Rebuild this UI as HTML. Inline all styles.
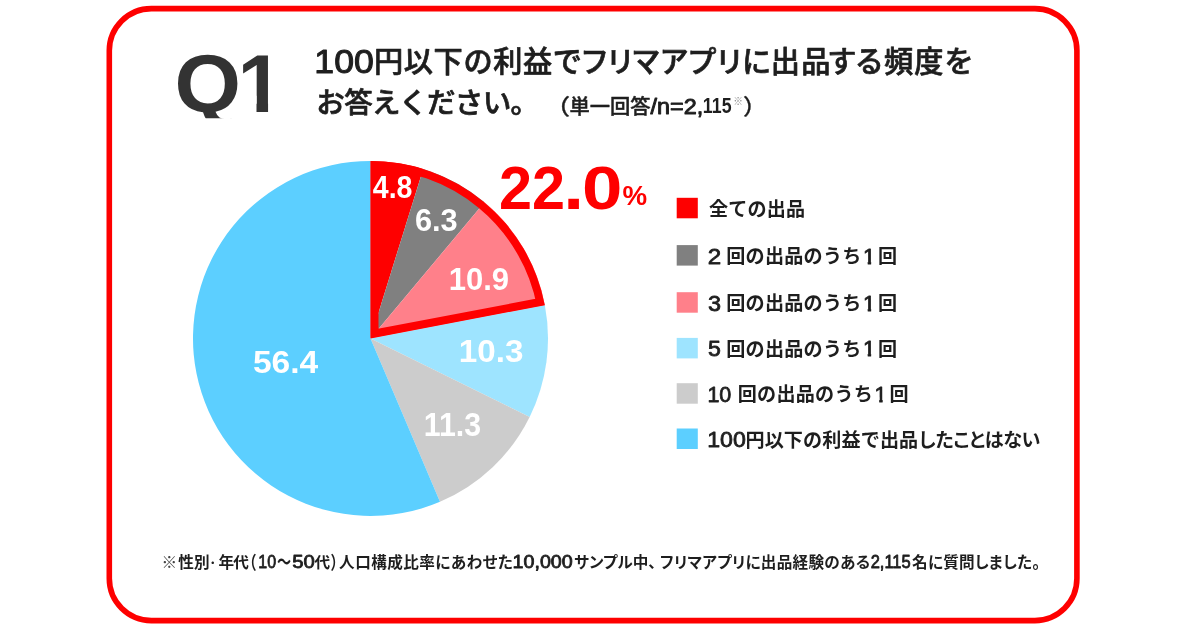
<!DOCTYPE html>
<html lang="ja">
<head>
<meta charset="utf-8">
<title>Q1</title>
<style>
html,body{margin:0;padding:0;background:#fff;}
body{width:1200px;height:630px;overflow:hidden;position:relative;font-family:"Liberation Sans","Noto Sans CJK JP",sans-serif;}
svg{position:absolute;left:0;top:0;display:block;}
text{font-family:"Liberation Sans","Noto Sans CJK JP",sans-serif;white-space:pre;}
</style>
</head>
<body>
<svg width="1200" height="630" viewBox="0 0 1200 630">
<defs><clipPath id="hc"><path d="M370.5,338.4 L370.50,160.90 A177.5,177.5 0 0 1 544.86,305.14 Z"/></clipPath></defs>
<rect x="109.3" y="8.6" width="967.6" height="612" rx="42" ry="42" fill="#fff" stroke="#fe0000" stroke-width="5.6"/>
<path d="M370.5,338.4 L370.50,160.90 A177.5,177.5 0 0 1 423.22,168.91 Z" fill="#fe0000"/>
<path d="M370.5,338.4 L423.22,168.91 A177.5,177.5 0 0 1 484.50,202.35 Z" fill="#808080"/>
<path d="M370.5,338.4 L484.50,202.35 A177.5,177.5 0 0 1 544.86,305.14 Z" fill="#ff808a"/>
<path d="M370.5,338.4 L544.86,305.14 A177.5,177.5 0 0 1 529.65,416.99 Z" fill="#9ee4ff"/>
<path d="M370.5,338.4 L529.65,416.99 A177.5,177.5 0 0 1 439.97,501.74 Z" fill="#cccccc"/>
<path d="M370.5,338.4 L439.97,501.74 A177.5,177.5 0 1 1 370.50,160.90 Z" fill="#5ccfff"/>
<path d="M370.5,338.4 L370.50,160.90 A177.5,177.5 0 0 1 544.86,305.14 Z" fill="none" stroke="#fe0000" stroke-width="16" stroke-linejoin="miter" stroke-miterlimit="20" clip-path="url(#hc)"/>
<rect x="676.7" y="197.8" width="21.1" height="20.5" fill="#fe0000"/>
<rect x="676.7" y="245.1" width="21.1" height="20.5" fill="#808080"/>
<rect x="676.7" y="292.2" width="21.1" height="20.5" fill="#ff808a"/>
<rect x="676.7" y="337.9" width="21.1" height="20.5" fill="#9ee4ff"/>
<rect x="676.7" y="383.2" width="21.1" height="20.5" fill="#cccccc"/>
<rect x="676.7" y="428.5" width="21.1" height="20.5" fill="#5ccfff"/>
<defs>
<clipPath id="cq"><rect x="170" y="40" width="80" height="78.3"/></clipPath>
<clipPath id="c1"><path d="M241.60,40 H268.06 V114.2 H256.50 V95.76 H241.60 Z"/></clipPath>
</defs>
<g clip-path="url(#cq)"><text transform="translate(174.38,112.2) scale(1.0398,1)" fill="#333" style="font-size:82.2px;font-weight:700">Q</text></g>
<g clip-path="url(#c1)"><text x="237.49" y="112.2" fill="#333" style="font-size:82.2px;font-weight:700">1</text></g>
<text transform="translate(314.32,72.66) scale(1.0559,1)" fill="#1e1e1e" style='font-size:33.80px;font-weight:400;stroke:#1e1e1e;stroke-width:1.0px;stroke-linejoin:round;'>100</text>
<text x="374.02" y="71.65" fill="#1e1e1e" style='font-size:29.20px;font-weight:500;letter-spacing:0.604px;stroke:#1e1e1e;stroke-width:0.7px;stroke-linejoin:round;'>円以下の利益で</text>
<text x="582.10" y="71.65" fill="#1e1e1e" style='font-size:29.20px;font-weight:500;letter-spacing:1.331px;font-feature-settings:"palt";stroke:#1e1e1e;stroke-width:0.7px;stroke-linejoin:round;'>フリマアプリに</text>
<text x="770.79" y="71.65" fill="#1e1e1e" style='font-size:29.20px;font-weight:500;letter-spacing:1.356px;stroke:#1e1e1e;stroke-width:0.7px;stroke-linejoin:round;'>出品</text>
<text x="828.83" y="71.65" fill="#1e1e1e" style='font-size:29.20px;font-weight:500;letter-spacing:0.798px;font-feature-settings:"palt";stroke:#1e1e1e;stroke-width:0.7px;stroke-linejoin:round;'>する</text>
<text x="884.12" y="71.65" fill="#1e1e1e" style='font-size:29.20px;font-weight:500;letter-spacing:0.994px;stroke:#1e1e1e;stroke-width:0.7px;stroke-linejoin:round;'>頻度を</text>
<text x="316.29" y="113.29" fill="#1e1e1e" style='font-size:28.50px;font-weight:500;letter-spacing:-0.630px;stroke:#1e1e1e;stroke-width:0.7px;stroke-linejoin:round;'>お答えください。</text>
<text transform="translate(544.69,113.73) scale(1.1687,1)" fill="#1e1e1e" style='font-size:21.78px;font-weight:500;stroke:#1e1e1e;stroke-width:0.3px;stroke-linejoin:round;'>（</text>
<text x="569.49" y="113.62" fill="#1e1e1e" style='font-size:20.30px;font-weight:500;letter-spacing:-0.059px;stroke:#1e1e1e;stroke-width:0.45px;stroke-linejoin:round;'>単一回答</text>
<text transform="translate(650.50,113.50) scale(1.0254,1)" fill="#1e1e1e" style='font-size:22.80px;font-weight:400;stroke:#1e1e1e;stroke-width:0.95px;stroke-linejoin:round;'>/n=2,</text>
<text transform="translate(702.85,113.27) scale(0.7771,1)" fill="#1e1e1e" style='font-size:22.86px;font-weight:700;'>115</text>
<text x="733.14" y="105.19" fill="#888" style='font-size:9.72px;font-weight:400;'>※</text>
<text transform="translate(742.94,113.73) scale(1.0852,1)" fill="#1e1e1e" style='font-size:21.78px;font-weight:500;stroke:#1e1e1e;stroke-width:0.3px;stroke-linejoin:round;'>）</text>
<text transform="translate(372.77,198.19) scale(0.9214,1)" fill="#fff" style='font-size:30.99px;font-weight:700;'>4.8</text>
<text transform="translate(414.92,230.98) scale(0.9620,1)" fill="#fff" style='font-size:31.97px;font-weight:700;'>6.3</text>
<text transform="translate(448.68,289.99) scale(0.9888,1)" fill="#fff" style='font-size:31.41px;font-weight:700;'>10.9</text>
<text transform="translate(458.84,361.69) scale(1.0723,1)" fill="#fff" style='font-size:30.99px;font-weight:700;'>10.3</text>
<text transform="translate(423.73,435.98) scale(0.9364,1)" fill="#fff" style='font-size:32.39px;font-weight:700;'>11.3</text>
<text transform="translate(252.89,372.68) scale(1.0590,1)" fill="#fff" style='font-size:31.69px;font-weight:700;'>56.4</text>
<text transform="translate(498.92,208.80) scale(0.9833,1)" fill="#fe0000" style='font-size:60.43px;font-weight:700;'>22</text>
<text transform="translate(563.25,208.80) scale(1.0922,1)" fill="#fe0000" style='font-size:68.67px;font-weight:700;'>.</text>
<text transform="translate(582.09,209.09) scale(1.1882,1)" fill="#fe0000" style='font-size:61.13px;font-weight:700;'>0</text>
<text transform="translate(622.51,205.42) scale(0.9778,1)" fill="#fe0000" style='font-size:28.37px;font-weight:700;'>%</text>
<text x="709.02" y="216.06" fill="#1e1e1e" style='font-size:19.10px;font-weight:700;letter-spacing:0.180px;'>全ての出品</text>
<text transform="translate(707.79,263.85) scale(1.0848,1)" fill="#1e1e1e" style='font-size:22.29px;font-weight:400;stroke:#1e1e1e;stroke-width:0.8px;stroke-linejoin:round;'>2</text>
<text x="726.16" y="263.21" fill="#1e1e1e" style='font-size:19.10px;font-weight:700;letter-spacing:0.270px;'>回の出品のうち</text>
<clipPath id="k26"><path d="M863.88,241.62 H871.12 V265.65 H867.74 V259.24 H863.88 Z"/></clipPath>
<g clip-path="url(#k26)"><text x="862.93" y="263.65" fill="#1e1e1e" style='font-size:22.03px;font-weight:400;stroke:#1e1e1e;stroke-width:0.8px;stroke-linejoin:round;'>1</text></g>
<text x="877.95" y="262.97" fill="#1e1e1e" style='font-size:19.10px;font-weight:700;'>回</text>
<text transform="translate(708.06,310.73) scale(1.0652,1)" fill="#1e1e1e" style='font-size:21.97px;font-weight:400;stroke:#1e1e1e;stroke-width:0.8px;stroke-linejoin:round;'>3</text>
<text x="726.16" y="310.31" fill="#1e1e1e" style='font-size:19.10px;font-weight:700;letter-spacing:0.270px;'>回の出品のうち</text>
<clipPath id="k31"><path d="M863.88,288.72 H871.12 V312.75 H867.74 V306.34 H863.88 Z"/></clipPath>
<g clip-path="url(#k31)"><text x="862.93" y="310.75" fill="#1e1e1e" style='font-size:22.03px;font-weight:400;stroke:#1e1e1e;stroke-width:0.8px;stroke-linejoin:round;'>1</text></g>
<text x="877.95" y="310.07" fill="#1e1e1e" style='font-size:19.10px;font-weight:700;'>回</text>
<text transform="translate(708.07,356.43) scale(1.0391,1)" fill="#1e1e1e" style='font-size:22.29px;font-weight:400;stroke:#1e1e1e;stroke-width:0.8px;stroke-linejoin:round;'>5</text>
<text x="726.16" y="356.01" fill="#1e1e1e" style='font-size:19.10px;font-weight:700;letter-spacing:0.270px;'>回の出品のうち</text>
<clipPath id="k36"><path d="M863.88,334.42 H871.12 V358.45 H867.74 V352.04 H863.88 Z"/></clipPath>
<g clip-path="url(#k36)"><text x="862.93" y="356.45" fill="#1e1e1e" style='font-size:22.03px;font-weight:400;stroke:#1e1e1e;stroke-width:0.8px;stroke-linejoin:round;'>1</text></g>
<text x="877.95" y="355.77" fill="#1e1e1e" style='font-size:19.10px;font-weight:700;'>回</text>
<text transform="translate(707.39,401.73) scale(0.9785,1)" fill="#1e1e1e" style='font-size:21.97px;font-weight:400;stroke:#1e1e1e;stroke-width:0.8px;stroke-linejoin:round;'>10</text>
<text x="737.66" y="401.31" fill="#1e1e1e" style='font-size:19.10px;font-weight:700;letter-spacing:0.270px;'>回の出品のうち</text>
<clipPath id="k41"><path d="M875.38,379.72 H882.62 V403.75 H879.24 V397.34 H875.38 Z"/></clipPath>
<g clip-path="url(#k41)"><text x="874.43" y="401.75" fill="#1e1e1e" style='font-size:22.03px;font-weight:400;stroke:#1e1e1e;stroke-width:0.8px;stroke-linejoin:round;'>1</text></g>
<text x="889.45" y="401.07" fill="#1e1e1e" style='font-size:19.10px;font-weight:700;'>回</text>
<text transform="translate(707.26,447.03) scale(1.0537,1)" fill="#1e1e1e" style='font-size:21.97px;font-weight:400;stroke:#1e1e1e;stroke-width:0.8px;stroke-linejoin:round;'>100</text>
<text x="745.47" y="446.71" fill="#1e1e1e" style='font-size:19.10px;font-weight:700;letter-spacing:0.109px;'>円以下の利益で出品</text>
<text x="918.84" y="446.66" fill="#1e1e1e" style='font-size:19.10px;font-weight:700;letter-spacing:-0.294px;font-feature-settings:"palt";'>したことはない</text>
<text x="161.45" y="567.83" fill="#444" style='font-size:15.60px;font-weight:400;'>※</text>
<text x="178.27" y="567.83" fill="#1e1e1e" style='font-size:15.60px;font-weight:700;letter-spacing:0.126px;'>性別</text>
<text x="207.25" y="566.58" fill="#1e1e1e" style='font-size:11.00px;font-weight:500;'>・</text>
<text x="218.38" y="567.87" fill="#1e1e1e" style='font-size:15.60px;font-weight:700;letter-spacing:-0.686px;'>年代</text>
<text transform="translate(242.83,568.89) scale(0.7610,1)" fill="#1e1e1e" style='font-size:18.13px;font-weight:700;'>（</text>
<text transform="translate(258.30,567.52) scale(0.8945,1)" fill="#1e1e1e" style='font-size:17.89px;font-weight:400;stroke:#1e1e1e;stroke-width:0.8px;stroke-linejoin:round;'>10</text>
<text transform="translate(276.93,568.85) scale(0.7301,1)" fill="#1e1e1e" style='font-size:19.35px;font-weight:700;'>〜</text>
<text transform="translate(292.19,567.52) scale(1.1343,1)" fill="#1e1e1e" style='font-size:17.89px;font-weight:400;stroke:#1e1e1e;stroke-width:0.8px;stroke-linejoin:round;'>50</text>
<text x="314.57" y="567.75" fill="#1e1e1e" style='font-size:15.60px;font-weight:700;'>代</text>
<text transform="translate(330.38,568.89) scale(0.7610,1)" fill="#1e1e1e" style='font-size:18.13px;font-weight:700;'>）</text>
<text x="339.11" y="567.83" fill="#1e1e1e" style='font-size:15.60px;font-weight:700;letter-spacing:0.449px;font-feature-settings:"palt";'>人口構成比率にあわせた</text>
<text transform="translate(512.52,567.60) scale(1.1064,1)" fill="#1e1e1e" style='font-size:17.80px;font-weight:400;stroke:#1e1e1e;stroke-width:0.8px;stroke-linejoin:round;'>10,000</text>
<text x="574.22" y="567.87" fill="#1e1e1e" style='font-size:15.60px;font-weight:700;letter-spacing:0.060px;font-feature-settings:"palt";'>サンプル中、</text>
<text x="659.99" y="567.83" fill="#1e1e1e" style='font-size:15.60px;font-weight:700;letter-spacing:0.274px;font-feature-settings:"palt";'>フリマアプリに出品経験のある</text>
<text transform="translate(870.68,567.60) scale(0.9263,1)" fill="#1e1e1e" style='font-size:17.80px;font-weight:400;stroke:#1e1e1e;stroke-width:0.8px;stroke-linejoin:round;'>2,115</text>
<text x="912.11" y="567.83" fill="#1e1e1e" style='font-size:15.60px;font-weight:700;letter-spacing:0.244px;font-feature-settings:"palt";'>名に質問しました。</text>
</svg>
</body>
</html>
